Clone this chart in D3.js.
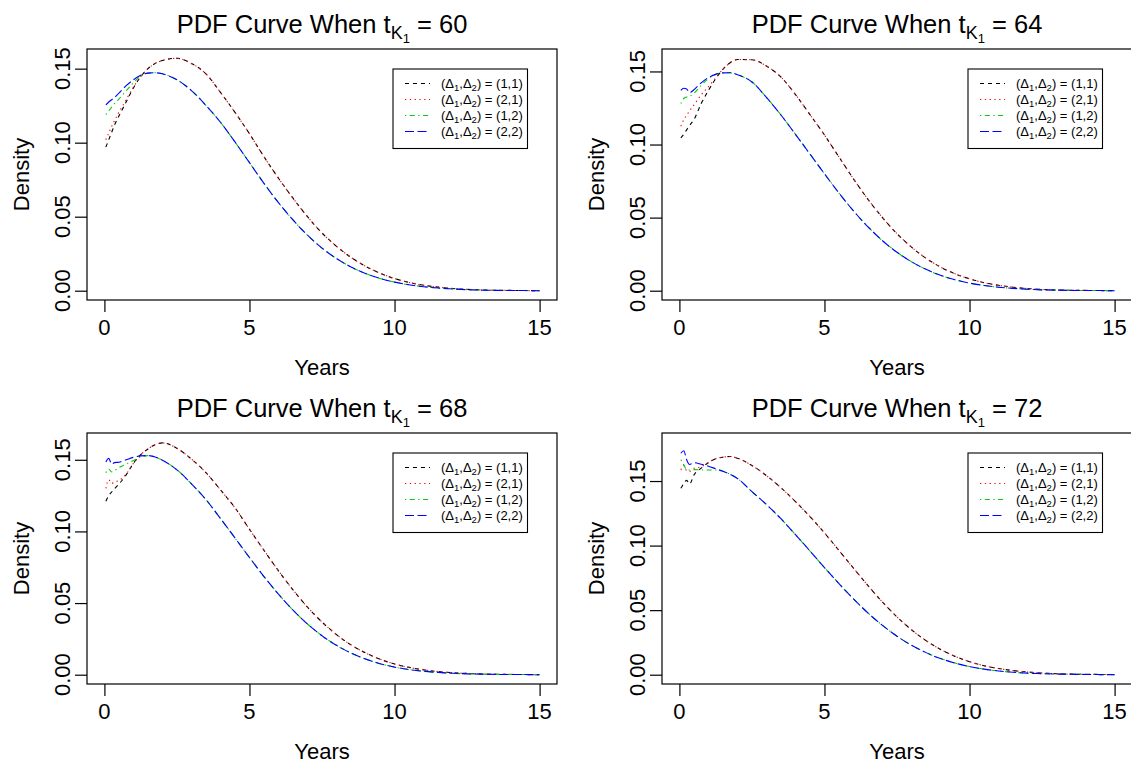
<!DOCTYPE html>
<html><head><meta charset="utf-8">
<script src="https://cdn.jsdelivr.net/npm/d3@7"></script>
<style>
html,body{margin:0;padding:0;background:#fff;}
svg{display:block;}
text{font-family:"Liberation Sans", Arial, Helvetica, sans-serif;fill:#000;}
</style></head>
<body>
<svg id="chart" width="1131" height="767"></svg>
<script>
// ---- data ----
const years = [0.05,0.15,0.25,0.35,0.5,0.75,1,1.25,1.5,1.75,2,2.5,3,3.5,4,4.5,5,5.5,6,6.5,7,7.5,8,8.5,9,9.5,10,10.5,11,11.5,12,12.5,13,13.5,14,14.5,15];
const tK1 = [60, 64, 68, 72];
const xTicks = [0, 5, 10, 15];
const yTicks = [0, 0.05, 0.10, 0.15];
const yUpper = [0.157, 0.159, 0.1622, 0.180];
const legendPairs = ["(1,1)", "(2,1)", "(1,2)", "(2,2)"];

// t = 60
const t60_d11 = [0.097,0.102,0.107,0.112,0.118,0.1275,0.137,0.1445,0.150,0.1535,0.1555,0.157,0.1535,0.1465,0.134,0.1205,0.106,0.0905,0.076,0.0625,0.050,0.039,0.030,0.0225,0.0165,0.0118,0.0082,0.0056,0.0037,0.0024,0.0015,0.0009,0.0005,0.0003,0.0002,0.0001,0.0000];
const t60_d21 = [0.102,0.1065,0.111,0.115,0.1205,0.129,0.1375,0.1445,0.150,0.1535,0.1555,0.157,0.1535,0.1465,0.134,0.1205,0.106,0.0905,0.076,0.0625,0.050,0.039,0.030,0.0225,0.0165,0.0118,0.0082,0.0056,0.0037,0.0024,0.0015,0.0009,0.0005,0.0003,0.0002,0.0001,0.0000];
const t60_d12 = [0.119,0.1215,0.124,0.1265,0.1295,0.135,0.1405,0.145,0.147,0.1472,0.1465,0.1425,0.1352,0.1252,0.1138,0.1005,0.0865,0.0725,0.0595,0.0478,0.0375,0.0288,0.0217,0.016,0.0116,0.0083,0.0058,0.004,0.0027,0.0018,0.0012,0.0007,0.0004,0.0002,0.0001,0.0001,0.0000];
const t60_d22 = [0.1255,0.1275,0.129,0.1305,0.1335,0.1385,0.1425,0.1455,0.147,0.1472,0.1465,0.1425,0.1352,0.1252,0.1138,0.1005,0.0865,0.0725,0.0595,0.0478,0.0375,0.0288,0.0217,0.016,0.0116,0.0083,0.0058,0.004,0.0027,0.0018,0.0012,0.0007,0.0004,0.0002,0.0001,0.0001,0.0000];
// t = 64
const t64_d11 = [0.1045,0.107,0.110,0.113,0.117,0.128,0.137,0.145,0.1515,0.156,0.1582,0.158,0.1537,0.1462,0.1342,0.1205,0.1065,0.0915,0.0765,0.0625,0.050,0.039,0.0298,0.0222,0.0162,0.0116,0.0081,0.0055,0.0037,0.0024,0.0015,0.0009,0.0005,0.0003,0.0002,0.0001,0.0000];
const t64_d21 = [0.1125,0.117,0.120,0.123,0.127,0.134,0.1395,0.1455,0.1515,0.156,0.1582,0.158,0.1537,0.1462,0.1342,0.1205,0.1065,0.0915,0.0765,0.0625,0.050,0.039,0.0298,0.0222,0.0162,0.0116,0.0081,0.0055,0.0037,0.0024,0.0015,0.0009,0.0005,0.0003,0.0002,0.0001,0.0000];
const t64_d12 = [0.128,0.1315,0.1325,0.133,0.135,0.1405,0.145,0.148,0.149,0.1491,0.1478,0.1428,0.1322,0.1202,0.107,0.0935,0.080,0.0668,0.0546,0.0437,0.0342,0.0263,0.0198,0.0146,0.0105,0.0075,0.0052,0.0036,0.0024,0.0016,0.001,0.0006,0.0004,0.0002,0.0001,0.0001,0.0000];
const t64_d22 = [0.137,0.1385,0.138,0.1355,0.1375,0.1422,0.1458,0.148,0.149,0.1491,0.1478,0.1428,0.1322,0.1202,0.107,0.0935,0.080,0.0668,0.0546,0.0437,0.0342,0.0263,0.0198,0.0146,0.0105,0.0075,0.0052,0.0036,0.0024,0.0016,0.001,0.0006,0.0004,0.0002,0.0001,0.0001,0.0000];
// t = 68
const t68_d11 = [0.121,0.125,0.1275,0.1298,0.133,0.1395,0.1475,0.1535,0.1575,0.1605,0.1618,0.158,0.1505,0.141,0.129,0.1165,0.1015,0.0868,0.0725,0.0592,0.0472,0.0368,0.028,0.0208,0.0152,0.0108,0.0075,0.0051,0.0034,0.0022,0.0014,0.0009,0.0005,0.0003,0.0002,0.0001,0.0000];
const t68_d21 = [0.130,0.136,0.1335,0.1345,0.1355,0.140,0.1475,0.1535,0.1575,0.1605,0.1618,0.158,0.1505,0.141,0.129,0.1165,0.1015,0.0868,0.0725,0.0592,0.0472,0.0368,0.028,0.0208,0.0152,0.0108,0.0075,0.0051,0.0034,0.0022,0.0014,0.0009,0.0005,0.0003,0.0002,0.0001,0.0000];
const t68_d12 = [0.141,0.1436,0.1415,0.1425,0.1445,0.147,0.1495,0.152,0.1529,0.152,0.1497,0.143,0.1332,0.1222,0.109,0.0955,0.0818,0.0685,0.0562,0.0451,0.0354,0.0272,0.0205,0.0151,0.0109,0.0077,0.0053,0.0036,0.0024,0.0016,0.001,0.0006,0.0004,0.0002,0.0001,0.0001,0.0000];
const t68_d22 = [0.1485,0.151,0.147,0.148,0.1483,0.150,0.1517,0.1527,0.1529,0.152,0.1497,0.143,0.1332,0.1222,0.109,0.0955,0.0818,0.0685,0.0562,0.0451,0.0354,0.0272,0.0205,0.0151,0.0109,0.0077,0.0053,0.0036,0.0024,0.0016,0.001,0.0006,0.0004,0.0002,0.0001,0.0001,0.0000];
// t = 72
const t72_d11 = [0.1444,0.148,0.1505,0.1477,0.1547,0.160,0.1642,0.1672,0.1685,0.169,0.1677,0.162,0.1542,0.1448,0.1341,0.1225,0.1098,0.0962,0.0825,0.069,0.0562,0.0448,0.0348,0.0264,0.0196,0.0142,0.0101,0.007,0.0048,0.0032,0.0021,0.0013,0.0008,0.0005,0.0003,0.0002,0.0001];
const t72_d21 = [0.1586,0.162,0.158,0.1575,0.1599,0.161,0.1645,0.1672,0.1685,0.169,0.1677,0.162,0.1542,0.1448,0.1341,0.1225,0.1098,0.0962,0.0825,0.069,0.0562,0.0448,0.0348,0.0264,0.0196,0.0142,0.0101,0.007,0.0048,0.0032,0.0021,0.0013,0.0008,0.0005,0.0003,0.0002,0.0001];
const t72_d12 = [0.1665,0.1625,0.159,0.1585,0.1588,0.1586,0.1586,0.1585,0.1575,0.1552,0.152,0.1418,0.1318,0.1208,0.1085,0.0958,0.083,0.0705,0.0587,0.0478,0.0382,0.0298,0.0228,0.0171,0.0125,0.009,0.0063,0.0043,0.0029,0.0019,0.0012,0.0008,0.0005,0.0003,0.0002,0.0001,0.0000];
const t72_d22 = [0.1715,0.1735,0.1665,0.1628,0.1642,0.163,0.1615,0.1595,0.1575,0.1552,0.152,0.1418,0.1318,0.1208,0.1085,0.0958,0.083,0.0705,0.0587,0.0478,0.0382,0.0298,0.0228,0.0171,0.0125,0.009,0.0063,0.0043,0.0029,0.0019,0.0012,0.0008,0.0005,0.0003,0.0002,0.0001,0.0000];

const panelSeries = [
  [t60_d11, t60_d21, t60_d12, t60_d22],
  [t64_d11, t64_d21, t64_d12, t64_d22],
  [t68_d11, t68_d21, t68_d12, t68_d22],
  [t72_d11, t72_d21, t72_d12, t72_d22]
];

// ---- styles ----
const seriesColors = ["#000000", "#FF0000", "#00CD00", "#0000FF"];
const seriesDash = ["4,4", "1.3,3.5", "1.3,3.5,5,3.5", "9,3.5"];
const FONT = 22;

const svg = d3.select("#chart");
const colOffset = 575, rowOffset = 384;
const box = {left: 87, right: 557, top: 49, bottom: 300};

panelSeries.forEach((series, i) => {
  const c = i % 2, r = Math.floor(i / 2);
  const L = box.left + c * colOffset, R = box.right + c * colOffset;
  const T = box.top + r * rowOffset, B = box.bottom + r * rowOffset;
  const g = svg.append("g");

  const x = d3.scaleLinear().domain([-0.6, 15.6]).range([L, R]);
  const M = yUpper[i];
  const y = d3.scaleLinear().domain([-0.04 * M, 1.04 * M]).range([B, T]);

  // lines
  const line = d3.line().x((d, k) => x(years[k])).y(d => y(d)).curve(d3.curveMonotoneX);
  series.forEach((s, k) => {
    g.append("path").datum(s)
      .attr("d", line)
      .attr("fill", "none")
      .attr("stroke", seriesColors[k])
      .attr("stroke-width", 1.1)
      .attr("stroke-dasharray", seriesDash[k]);
  });

  // box
  g.append("rect").attr("x", L).attr("y", T).attr("width", R - L).attr("height", B - T)
    .attr("fill", "none").attr("stroke", "#000").attr("stroke-width", 1.2);

  // x axis
  const xa = g.append("g").attr("transform", `translate(0,${B})`)
    .call(d3.axisBottom(x).tickValues(xTicks).tickSize(12).tickSizeOuter(0).tickFormat(""));
  xa.select(".domain").remove();
  xa.selectAll(".tick line").attr("stroke", "#000").attr("stroke-width", 1.2);
  g.selectAll(null).data(xTicks).enter().append("text")
    .attr("x", d => x(d)).attr("y", B + 35)
    .attr("text-anchor", "middle").attr("font-size", FONT).text(d => d);

  // y axis
  const ya = g.append("g").attr("transform", `translate(${L},0)`)
    .call(d3.axisLeft(y).tickValues(yTicks).tickSize(12).tickSizeOuter(0).tickFormat(""));
  ya.select(".domain").remove();
  ya.selectAll(".tick line").attr("stroke", "#000").attr("stroke-width", 1.2);
  g.selectAll(null).data(yTicks).enter().append("text")
    .attr("transform", d => `translate(${L - 17},${y(d)}) rotate(-90)`)
    .attr("text-anchor", "middle").attr("font-size", FONT).text(d => d3.format(".2f")(d));

  // axis titles
  g.append("text").attr("x", (L + R) / 2).attr("y", B + 75)
    .attr("text-anchor", "middle").attr("font-size", FONT).text("Years");
  g.append("text").attr("transform", `translate(${L - 58},${(T + B) / 2}) rotate(-90)`)
    .attr("text-anchor", "middle").attr("font-size", FONT).text("Density");

  // title
  const tt = g.append("text").attr("x", (L + R) / 2).attr("y", T - 16)
    .attr("text-anchor", "middle").attr("font-size", 25.5);
  tt.append("tspan").text("PDF Curve When t");
  tt.append("tspan").attr("font-size", 18).attr("dy", 6).text("K");
  tt.append("tspan").attr("font-size", 13).attr("dy", 4).text("1");
  tt.append("tspan").attr("dy", -10).text(" = " + tK1[i]);

  // legend
  const lx = L + 306, ly = T + 20, lw = 134.5, lh = 79.5;
  g.append("rect").attr("x", lx).attr("y", ly).attr("width", lw).attr("height", lh)
    .attr("fill", "#fff").attr("stroke", "#000").attr("stroke-width", 1.1);
  legendPairs.forEach((p, k) => {
    const cy = ly + 14.5 + k * 16;
    g.append("line").attr("x1", lx + 12).attr("x2", lx + 37).attr("y1", cy).attr("y2", cy)
      .attr("stroke", seriesColors[k]).attr("stroke-width", 1.1).attr("stroke-dasharray", seriesDash[k]);
    const t = g.append("text").attr("x", lx + 48).attr("y", cy + 4.5).attr("font-size", 13);
    t.append("tspan").text("(\u0394");
    t.append("tspan").attr("font-size", 9.5).attr("dy", 3).text("1");
    t.append("tspan").attr("dy", -3).text(",\u0394");
    t.append("tspan").attr("font-size", 9.5).attr("dy", 3).text("2");
    t.append("tspan").attr("dy", -3).text(") = " + p);
  });
});
</script>
</body></html>
